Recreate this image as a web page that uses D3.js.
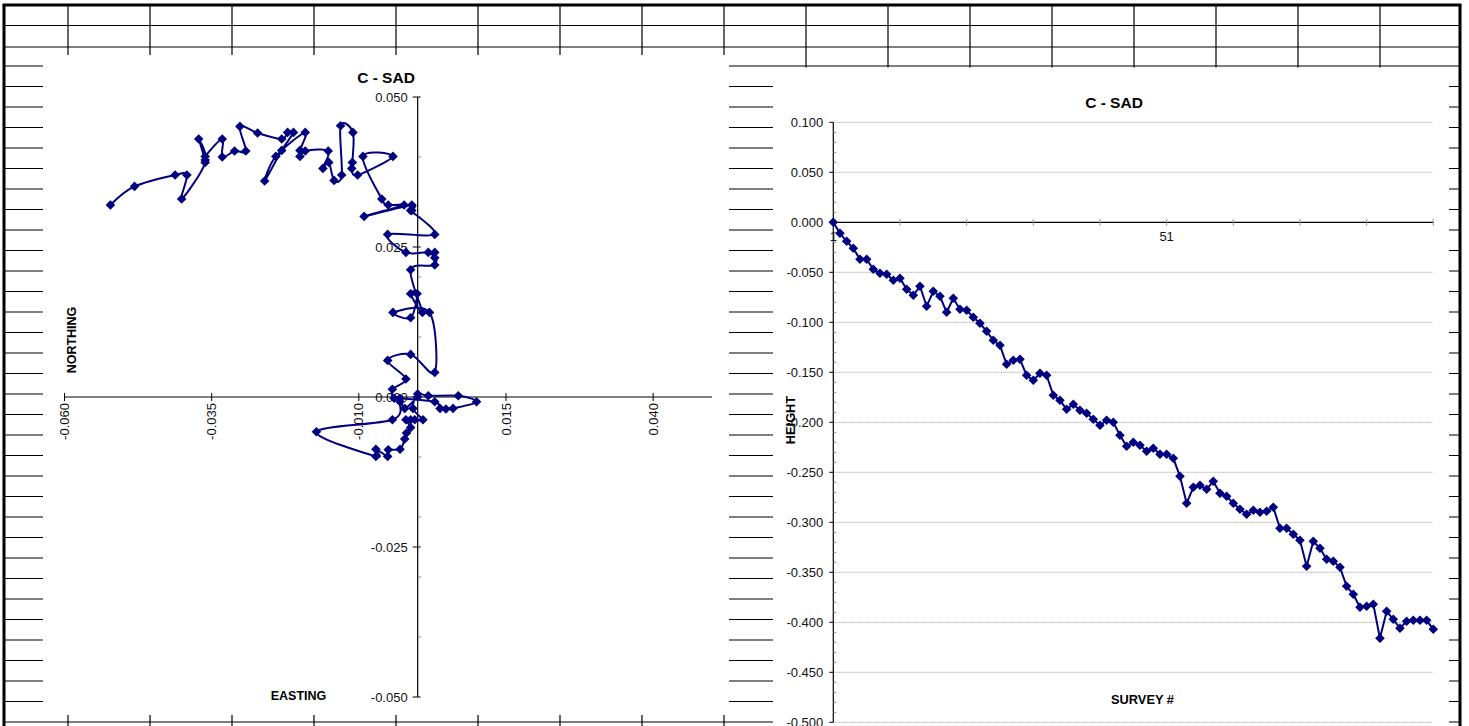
<!DOCTYPE html>
<html>
<head>
<meta charset="utf-8">
<script src="https://cdn.jsdelivr.net/npm/d3@7"></script>
<style>
  body { margin: 0; background: #fff; }
  svg { display: block; }
  text { font-family: "Liberation Sans", Arial, sans-serif; }
</style>
</head>
<body>
<svg id="sheet" width="1469" height="726"></svg>
<script>
// ---- data ----
const chartTitle = "C - SAD";

// survey numbers (categories of the height chart)
const surveys = d3.range(1, 92);

// height change per survey
const heights = [
  0.000, -0.011, -0.019, -0.026, -0.037, -0.037, -0.047, -0.051, -0.052, -0.058,
  -0.056, -0.067, -0.073, -0.064, -0.084, -0.069, -0.074, -0.090, -0.076, -0.087,
  -0.088, -0.095, -0.101, -0.109, -0.118, -0.123, -0.142, -0.138, -0.137, -0.153,
  -0.158, -0.151, -0.153, -0.173, -0.178, -0.187, -0.182, -0.188, -0.191, -0.197,
  -0.203, -0.198, -0.200, -0.213, -0.224, -0.220, -0.223, -0.229, -0.226, -0.232,
  -0.232, -0.236, -0.254, -0.281, -0.265, -0.263, -0.267, -0.259, -0.271, -0.274,
  -0.281, -0.287, -0.292, -0.288, -0.290, -0.289, -0.285, -0.306, -0.306, -0.312,
  -0.318, -0.344, -0.319, -0.326, -0.337, -0.339, -0.345, -0.364, -0.372, -0.385,
  -0.384, -0.382, -0.416, -0.389, -0.397, -0.406, -0.399, -0.398, -0.398, -0.398,
  -0.407
];

// plan position per survey
const eastings = [
  0.0000, -0.0022, -0.0030, -0.0043, -0.0172, -0.0071, -0.0071, -0.0051, -0.0050, -0.0030,
  -0.0022, -0.0019, -0.0012, -0.0020, -0.0012, -0.0005, 0.0009, -0.0008, 0.0000, 0.0018,
  0.0069, 0.0100, 0.0060, 0.0048, 0.0038, 0.0029, -0.0030, -0.0040, -0.0043, -0.0020,
  -0.0051, -0.0012, 0.0029, 0.0020, -0.0042, -0.0012, -0.0001, -0.0012, 0.0008, -0.0012,
  0.0029, 0.0029, 0.0029, 0.0018, -0.0020, -0.0051, 0.0029, -0.0012, -0.0010, -0.0010,
  -0.0091, -0.0023, -0.0050, -0.0061, -0.0093, -0.0042, -0.0102, -0.0112, -0.0111, -0.0110,
  -0.0131, -0.0129, -0.0142, -0.0151, -0.0161, -0.0152, -0.0191, -0.0200, -0.0200, -0.0191,
  -0.0241, -0.0260, -0.0231, -0.0211, -0.0221, -0.0231, -0.0272, -0.0302, -0.0292, -0.0311,
  -0.0332, -0.0332, -0.0361, -0.0361, -0.0372, -0.0361, -0.0401, -0.0392, -0.0412, -0.0481,
  -0.0522
];
const northings = [
  0.0000, -0.0019, -0.0008, -0.0038, -0.0058, -0.0099, -0.0087, -0.0099, -0.0088, -0.0087,
  -0.0070, -0.0060, -0.0051, -0.0038, -0.0038, -0.0038, -0.0038, -0.0019, 0.0005, 0.0002,
  0.0002, -0.0008, -0.0019, -0.0020, -0.0019, -0.0008, -0.0002, -0.0002, 0.0013, 0.0030,
  0.0061, 0.0071, 0.0041, 0.0141, 0.0141, 0.0132, 0.0172, 0.0172, 0.0141, 0.0212,
  0.0220, 0.0241, 0.0232, 0.0241, 0.0241, 0.0271, 0.0271, 0.0311, 0.0311, 0.0320,
  0.0301, 0.0320, 0.0320, 0.0330, 0.0401, 0.0401, 0.0370, 0.0381, 0.0391, 0.0441,
  0.0452, 0.0370, 0.0361, 0.0391, 0.0381, 0.0410, 0.0410, 0.0401, 0.0411, 0.0441,
  0.0401, 0.0360, 0.0411, 0.0441, 0.0441, 0.0430, 0.0440, 0.0451, 0.0410, 0.0410,
  0.0400, 0.0430, 0.0401, 0.0395, 0.0430, 0.0391, 0.0330, 0.0370, 0.0370, 0.0351,
  0.0320
];

// axis ticks
const eastingTicks = [-0.060, -0.035, -0.010, 0.015, 0.040];
const northingTicks = [0.050, 0.025, 0.000, -0.025, -0.050];
const northingMinor = [0.04, 0.03, 0.02, 0.01, -0.01, -0.02, -0.03, -0.04];
const heightTicks = [0.100, 0.050, 0.000, -0.050, -0.100, -0.150, -0.200, -0.250, -0.300, -0.350, -0.400, -0.450, -0.500];
const surveyTickLabels = [1, 51];

// ---- drawing ----
const svg = d3.select("#sheet");
const navy = "#000080";
const tickFont = 13;
// plain hyphen-minus, three decimals
const fmt = d => (Math.abs(d) < 1e-12 ? 0 : d).toFixed(3);
const diamond = r => `M0,${-r}L${r},0L0,${r}L${-r},0Z`;

// spreadsheet grid behind the charts
const grid = svg.append("g").attr("stroke", "#000").attr("stroke-width", 1.2);
const rowLines = [25.5, 47].concat(d3.range(66, 723, 20.5));
grid.selectAll("line.row").data(rowLines).join("line")
  .attr("x1", 4).attr("x2", 1460).attr("y1", d => d).attr("y2", d => d);
const colLines = d3.range(68, 1461, 82);
grid.selectAll("line.col").data(colLines).join("line")
  .attr("x1", d => d).attr("x2", d => d).attr("y1", 5).attr("y2", 726);

// chart panes
svg.append("rect").attr("x", 43).attr("y", 55).attr("width", 686).attr("height", 660).attr("fill", "#fff");
svg.append("rect").attr("x", 773).attr("y", 67.5).attr("width", 676).attr("height", 680).attr("fill", "#fff");

// sheet border
const border = svg.append("g").attr("stroke", "#000").attr("stroke-width", 3);
border.append("line").attr("x1", 2.5).attr("x2", 1461.5).attr("y1", 5).attr("y2", 5);
border.append("line").attr("x1", 4).attr("x2", 4).attr("y1", 5).attr("y2", 726);
border.append("line").attr("x1", 1460).attr("x2", 1460).attr("y1", 5).attr("y2", 726);

// ---------- left chart: plan position ----------
const L = svg.append("g");
const xE = d3.scaleLinear().domain([-0.06, 0.05]).range([64.5, 712]);
const yN = d3.scaleLinear().domain([-0.05, 0.05]).range([697, 97]);
const x0 = xE(0), y0 = yN(0);

L.append("text").attr("x", 386).attr("y", 83).attr("text-anchor", "middle")
  .attr("font-size", 15.5).attr("font-weight", "bold").text(chartTitle);

// northing axis
L.append("line").attr("x1", x0).attr("x2", x0).attr("y1", yN(0.05)).attr("y2", yN(-0.05))
  .attr("stroke", "#000").attr("stroke-width", 1.2);
L.selectAll("line.nt").data(northingTicks).join("line")
  .attr("x1", x0 - 5).attr("x2", x0 + 3).attr("y1", d => yN(d)).attr("y2", d => yN(d))
  .attr("stroke", "#000").attr("stroke-width", 1);
L.selectAll("line.nm").data(northingMinor).join("line")
  .attr("x1", x0).attr("x2", x0 + 3.5).attr("y1", d => yN(d)).attr("y2", d => yN(d))
  .attr("stroke", "#888").attr("stroke-width", 1);
L.selectAll("text.nl").data(northingTicks).join("text")
  .attr("x", x0 - 10).attr("y", d => yN(d)).attr("dy", "0.35em")
  .attr("text-anchor", "end").attr("font-size", tickFont).attr("fill", "#111")
  .text(d => fmt(d));

// easting axis
L.append("line").attr("x1", xE(-0.06)).attr("x2", xE(0.05)).attr("y1", y0).attr("y2", y0)
  .attr("stroke", "#000").attr("stroke-width", 1.2);
L.selectAll("line.et").data(eastingTicks).join("line")
  .attr("x1", d => xE(d)).attr("x2", d => xE(d)).attr("y1", y0 - 4).attr("y2", y0 + 4)
  .attr("stroke", "#000").attr("stroke-width", 1);
L.selectAll("text.el").data(eastingTicks).join("text")
  .attr("transform", d => `translate(${xE(d)},${y0 + 6}) rotate(-90)`)
  .attr("dy", "0.35em").attr("text-anchor", "end")
  .attr("font-size", tickFont).attr("fill", "#111")
  .text(d => fmt(d));

L.append("text").attr("transform", "translate(72,340) rotate(-90)")
  .attr("text-anchor", "middle").attr("dy", "0.35em")
  .attr("font-size", 12.5).attr("font-weight", "bold").text("NORTHING");
L.append("text").attr("x", 298.5).attr("y", 700).attr("text-anchor", "middle")
  .attr("font-size", 12.5).attr("font-weight", "bold").text("EASTING");

const idx = d3.range(eastings.length);
const planLine = d3.line()
  .x(i => xE(eastings[i])).y(i => yN(northings[i]))
  .curve(d3.curveCardinal.tension(0));
L.append("path").attr("d", planLine(idx))
  .attr("fill", "none").attr("stroke", navy).attr("stroke-width", 2);
L.selectAll("path.m").data(idx).join("path")
  .attr("transform", i => `translate(${xE(eastings[i])},${yN(northings[i])})`)
  .attr("d", diamond(4.8)).attr("fill", navy);

// ---------- right chart: height by survey ----------
const R = svg.append("g");
const xS = d3.scalePoint().domain(surveys).range([833.3, 1433.3]);
const yH = d3.scaleLinear().domain([-0.5, 0.1]).range([722.3, 122.3]);
const ax = xS(surveys[0]), ay = yH(0);

R.append("text").attr("x", 1114).attr("y", 108).attr("text-anchor", "middle")
  .attr("font-size", 15.5).attr("font-weight", "bold").text(chartTitle);

// dotted gridlines
R.selectAll("line.g").data(heightTicks.filter(d => d !== 0)).join("line")
  .attr("x1", ax).attr("x2", xS(surveys[surveys.length - 1]))
  .attr("y1", d => yH(d)).attr("y2", d => yH(d))
  .attr("stroke", "#9a9a9a").attr("stroke-width", 1).attr("stroke-dasharray", "1,1");

// height axis
R.append("line").attr("x1", ax).attr("x2", ax).attr("y1", yH(0.1)).attr("y2", yH(-0.5))
  .attr("stroke", "#000").attr("stroke-width", 1.2);
R.selectAll("line.ht").data(heightTicks).join("line")
  .attr("x1", ax - 4).attr("x2", ax).attr("y1", d => yH(d)).attr("y2", d => yH(d))
  .attr("stroke", "#000").attr("stroke-width", 1);
const heightMinor = yH.ticks(60).filter(v => !heightTicks.some(t => Math.abs(t - v) < 1e-9));
R.selectAll("line.hm").data(heightMinor).join("line")
  .attr("x1", ax).attr("x2", ax + 3).attr("y1", d => yH(d)).attr("y2", d => yH(d))
  .attr("stroke", "#888").attr("stroke-width", 1);
R.selectAll("text.hl").data(heightTicks).join("text")
  .attr("x", ax - 10).attr("y", d => yH(d)).attr("dy", "0.35em")
  .attr("text-anchor", "end").attr("font-size", tickFont).attr("fill", "#111")
  .text(d => fmt(d));

// survey axis
R.append("line").attr("x1", ax).attr("x2", xS(surveys[surveys.length - 1])).attr("y1", ay).attr("y2", ay)
  .attr("stroke", "#000").attr("stroke-width", 1.2);
R.selectAll("line.st").data(surveys.filter(s => (s - 1) % 10 === 0)).join("line")
  .attr("x1", d => xS(d)).attr("x2", d => xS(d)).attr("y1", ay - 3.5).attr("y2", ay + 3.5)
  .attr("stroke", "#999").attr("stroke-width", 1);
R.selectAll("text.sl").data(surveyTickLabels).join("text")
  .attr("x", d => xS(d)).attr("y", ay + 19).attr("text-anchor", "middle")
  .attr("font-size", tickFont).attr("fill", "#111").text(d => d);

R.append("text").attr("transform", "translate(791,420) rotate(-90)")
  .attr("text-anchor", "middle").attr("dy", "0.35em")
  .attr("font-size", 12.8).attr("font-weight", "bold").text("HEIGHT");
R.append("text").attr("x", 1142.5).attr("y", 703.5).attr("text-anchor", "middle")
  .attr("font-size", 12.8).attr("font-weight", "bold").text("SURVEY #");

const heightLine = d3.line().x((d, i) => xS(surveys[i])).y(d => yH(d));
R.append("path").attr("d", heightLine(heights))
  .attr("fill", "none").attr("stroke", navy).attr("stroke-width", 2);
R.selectAll("path.m").data(heights).join("path")
  .attr("transform", (d, i) => `translate(${xS(surveys[i])},${yH(d)})`)
  .attr("d", diamond(4.8)).attr("fill", navy);
</script>
</body>
</html>
